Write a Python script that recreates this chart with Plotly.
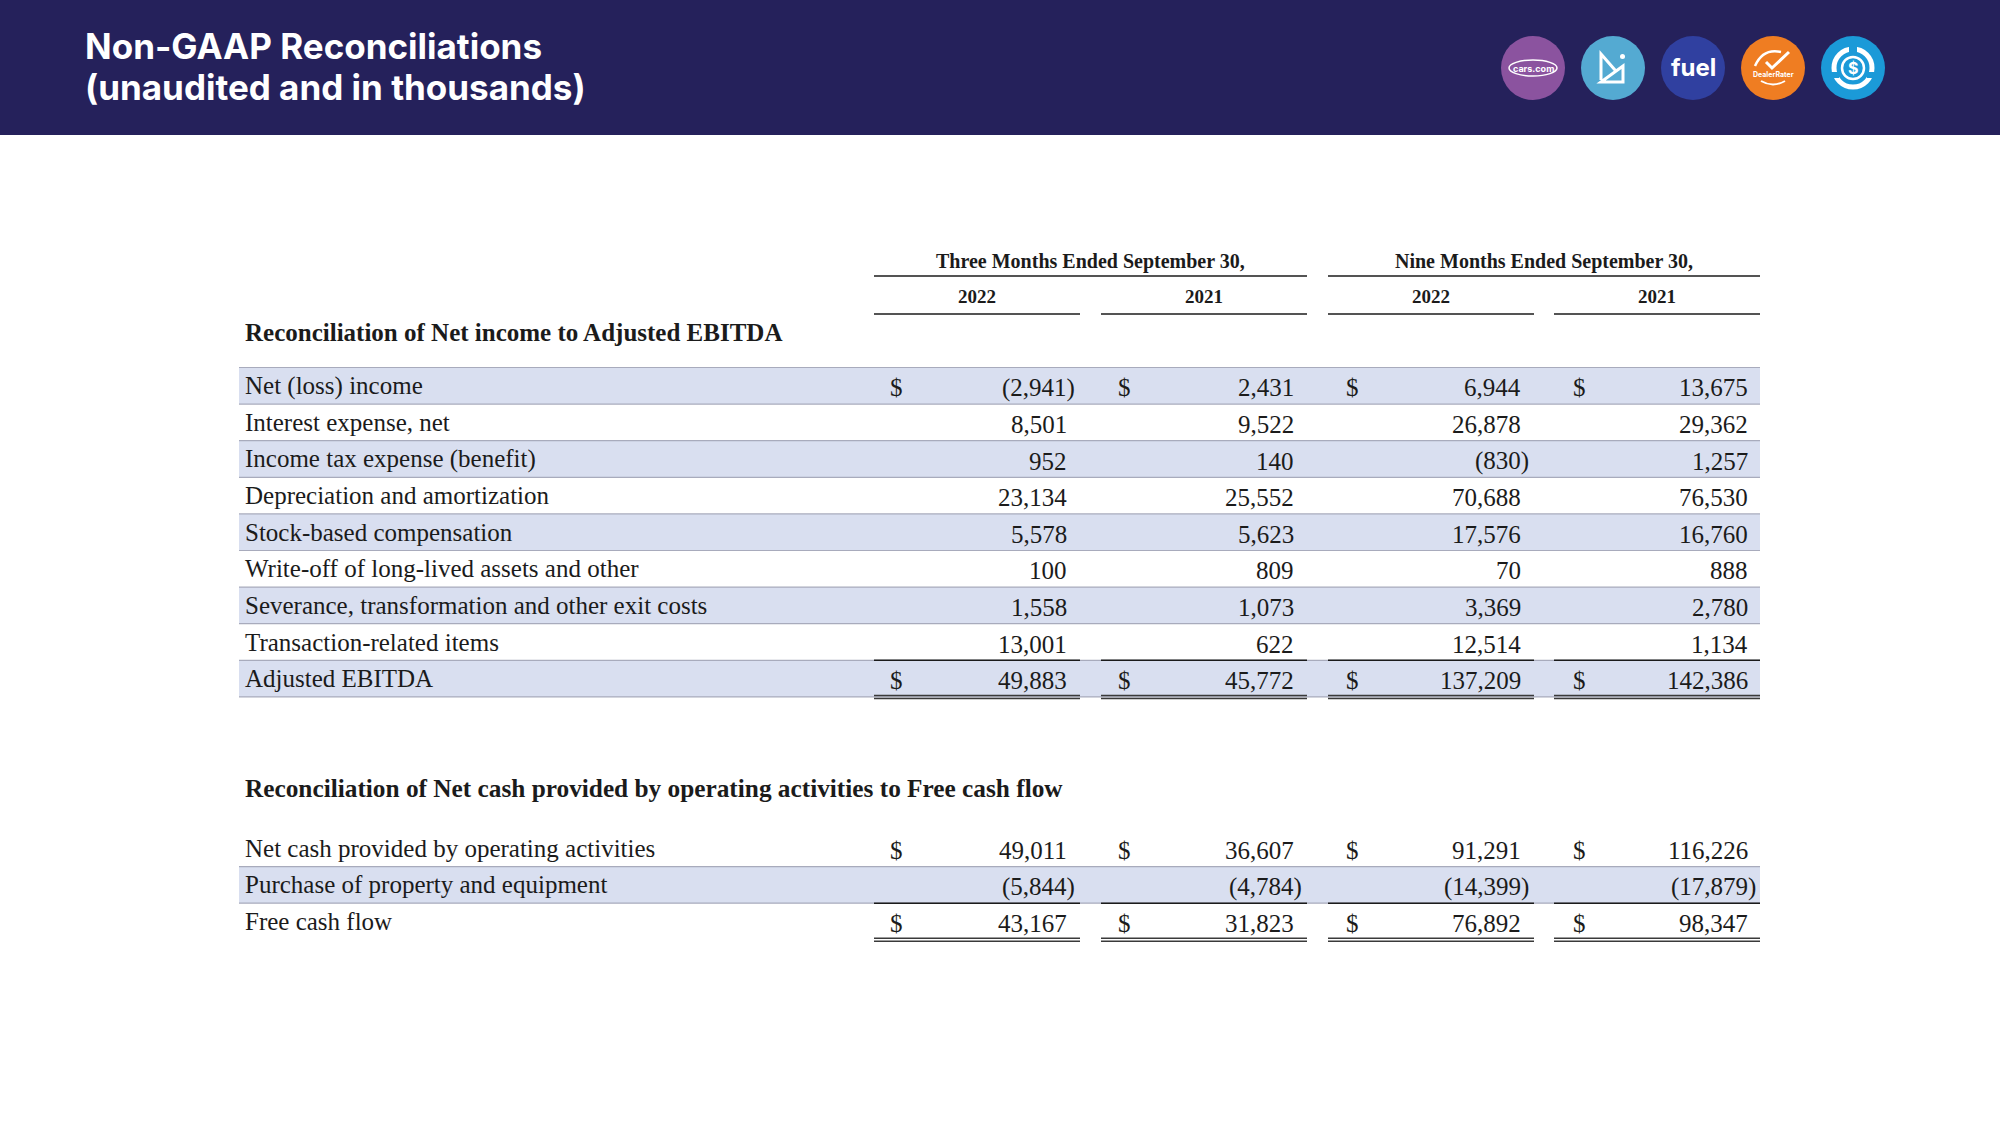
import plotly.graph_objects as go

# ---------------- data ----------------
period_headers = ["Three Months Ended September 30,", "Nine Months Ended September 30,"]
year_labels = ["2022", "2021", "2022", "2021"]

section1_title = "Reconciliation of Net income to Adjusted EBITDA"
ebitda_items = [
    "Net (loss) income",
    "Interest expense, net",
    "Income tax expense (benefit)",
    "Depreciation and amortization",
    "Stock-based compensation",
    "Write-off of long-lived assets and other",
    "Severance, transformation and other exit costs",
    "Transaction-related items",
    "Adjusted EBITDA",
]
ebitda_q3_2022 = [-2941, 8501, 952, 23134, 5578, 100, 1558, 13001, 49883]
ebitda_q3_2021 = [2431, 9522, 140, 25552, 5623, 809, 1073, 622, 45772]
ebitda_9m_2022 = [6944, 26878, -830, 70688, 17576, 70, 3369, 12514, 137209]
ebitda_9m_2021 = [13675, 29362, 1257, 76530, 16760, 888, 2780, 1134, 142386]

section2_title = "Reconciliation of Net cash provided by operating activities to Free cash flow"
fcf_items = [
    "Net cash provided by operating activities",
    "Purchase of property and equipment",
    "Free cash flow",
]
fcf_q3_2022 = [49011, -5844, 43167]
fcf_q3_2021 = [36607, -4784, 31823]
fcf_9m_2022 = [91291, -14399, 76892]
fcf_9m_2021 = [116226, -17879, 98347]

title_lines = ["Non-GAAP Reconciliations", "(unaudited and in thousands)"]

# ---------------- layout constants ----------------
W, H = 2000, 1125
NAVY = "#25215b"
BAND = "#d9dff0"
BAND_EDGE = "#a8abbc"
INK = "#1b1b1b"
SERIF = "Liberation Serif"

col_left = [874, 1101, 1328, 1554]      # column segment left edges
col_right = [1080, 1307, 1534, 1760]    # column segment right edges
dollar_x = [888, 1116, 1344, 1571]
digit_right = [1069, 1296, 1523, 1750]
label_x = 243
band_left, band_right = 239, 1760

row_h = 36.6
s1_top = 367.5
s2_top = 830.0

fig = go.Figure()
shapes = []
ann = []


def fmt(v):
    s = f"{abs(v):,}"
    return f"({s})" if v < 0 else s


def add_text(x, y, text, size=25, anchor="left", color=INK, family=SERIF, bold=False):
    ann.append(dict(
        x=x, y=y, xref="x", yref="y", text=(f"<b>{text}</b>" if bold else text),
        showarrow=False, xanchor=anchor, yanchor="middle",
        font=dict(family=family, size=size, color=color),
    ))


def hline(x0, x1, y, color=INK, width=1.5):
    shapes.append(dict(type="line", xref="x", yref="y", x0=x0, x1=x1, y0=y, y1=y,
                       line=dict(color=color, width=width), layer="above"))


# ---------------- header ----------------
shapes.append(dict(type="rect", xref="x", yref="y", x0=0, x1=W, y0=0, y1=135,
                   fillcolor=NAVY, line=dict(width=0), layer="below"))
for i, t in enumerate(title_lines):
    add_text(83, 46 + i * 41, t, size=35, color="white", family="Inter", bold=True)

# icons
icon_x = [1533, 1613, 1693, 1773, 1853]
icon_y = 68
icon_r = 32
icon_colors = ["#8b539f", "#54aad2", "#3040a0", "#ef7d22", "#1b9ad8"]
for cx, c in zip(icon_x, icon_colors):
    shapes.append(dict(type="circle", xref="x", yref="y", x0=cx - icon_r, x1=cx + icon_r,
                       y0=icon_y - icon_r, y1=icon_y + icon_r, fillcolor=c, line=dict(width=0)))
# cars.com
shapes.append(dict(type="circle", xref="x", yref="y", x0=icon_x[0] - 24, x1=icon_x[0] + 24,
                   y0=icon_y - 8, y1=icon_y + 8, line=dict(color="white", width=1.5)))
add_text(icon_x[0], icon_y, "cars.com", size=9, anchor="center", color="white", family="Inter", bold=True)
# second logo (stylised lines)
cx = icon_x[1]
shapes.append(dict(type="path", xref="x", yref="y",
                   path=f"M {cx-12},{icon_y+12} L {cx-12},{icon_y-14} L {cx+2},{icon_y+2} "
                        f"M {cx-12},{icon_y+14} L {cx+10},{icon_y+14} L {cx+10},{icon_y-2} Z",
                   line=dict(color="white", width=3)))
shapes.append(dict(type="circle", xref="x", yref="y", x0=cx + 7, x1=cx + 12, y0=icon_y - 14, y1=icon_y - 9,
                   fillcolor="white", line=dict(width=0)))
# fuel
add_text(icon_x[2], icon_y - 1, "fuel", size=24, anchor="center", color="white", family="Inter", bold=True)
# DealerRater
cx = icon_x[3]
shapes.append(dict(type="path", xref="x", yref="y",
                   path=f"M {cx-18},{icon_y-2} Q {cx-10},{icon_y-20} {cx+8},{icon_y-16}",
                   line=dict(color="white", width=2.5)))
shapes.append(dict(type="path", xref="x", yref="y",
                   path=f"M {cx-7},{icon_y-6} L {cx-1},{icon_y} L {cx+16},{icon_y-16}",
                   line=dict(color="white", width=3)))
add_text(cx, icon_y + 6, "DealerRater", size=7, anchor="center", color="white", family="Inter", bold=True)
shapes.append(dict(type="path", xref="x", yref="y",
                   path=f"M {cx-12},{icon_y+13} Q {cx},{icon_y+20} {cx+12},{icon_y+13}",
                   line=dict(color="white", width=2)))
# dollar ring
cx = icon_x[4]
shapes.append(dict(type="circle", xref="x", yref="y", x0=cx - 19, x1=cx + 19, y0=icon_y - 19, y1=icon_y + 19,
                   line=dict(color="white", width=5)))
shapes.append(dict(type="circle", xref="x", yref="y", x0=cx - 11, x1=cx + 11, y0=icon_y - 11, y1=icon_y + 11,
                   line=dict(color="white", width=2.5)))
add_text(cx, icon_y, "$", size=16, anchor="center", color="white", family="Inter", bold=True)
for dx0, dy0, dx1, dy1 in [(-4, -24, 4, -14), (14, 4, 24, 10), (-24, 4, -14, 10)]:
    shapes.append(dict(type="rect", xref="x", yref="y", x0=cx + dx0, x1=cx + dx1, y0=icon_y + dy0,
                       y1=icon_y + dy1, fillcolor=icon_colors[4], line=dict(width=0)))

# ---------------- column headers ----------------
add_text((col_left[0] + col_right[1]) / 2, 261, period_headers[0], size=20, anchor="center", bold=True)
add_text((col_left[2] + col_right[3]) / 2, 261, period_headers[1], size=20, anchor="center", bold=True)
hline(col_left[0], col_right[1], 276, width=1.5)
hline(col_left[2], col_right[3], 276, width=1.5)
for i, yl in enumerate(year_labels):
    add_text((col_left[i] + col_right[i]) / 2, 296, yl, size=19, anchor="center", bold=True)
    hline(col_left[i], col_right[i], 314, width=1.5)


# ---------------- table sections ----------------
def draw_section(title, title_y, title_size, top, items, cols, shaded, dollar_rows, total_row):
    add_text(label_x, title_y, title, size=title_size, bold=True)
    for r, item in enumerate(items):
        y0 = top + r * row_h
        y1 = y0 + row_h
        yc = (y0 + y1) / 2
        if r in shaded:
            shapes.append(dict(type="rect", xref="x", yref="y", x0=band_left, x1=band_right, y0=y0, y1=y1,
                               fillcolor=BAND, line=dict(width=0), layer="below"))
            hline(band_left, band_right, y0, color=BAND_EDGE, width=1.2)
            hline(band_left, band_right, y1, color=BAND_EDGE, width=1.2)
        add_text(label_x, yc, item, size=25)
        for c, vals in enumerate(cols):
            v = vals[r]
            if r in dollar_rows:
                add_text(dollar_x[c], yc + 2, "$", size=25, anchor="left")
            xr = digit_right[c] + (8 if v < 0 else 0)
            add_text(xr, yc + 2, fmt(v), size=25, anchor="right")
        if r == total_row:
            for c in range(4):
                hline(col_left[c], col_right[c], y0, width=1.5)
                hline(col_left[c], col_right[c], y1 - 1.5, color="#3a3a3a", width=1.5)
                hline(col_left[c], col_right[c], y1 + 1.5, color="#3a3a3a", width=1.5)


draw_section(section1_title, 332, 25, s1_top, ebitda_items,
             [ebitda_q3_2022, ebitda_q3_2021, ebitda_9m_2022, ebitda_9m_2021],
             shaded={0, 2, 4, 6, 8}, dollar_rows={0, 8}, total_row=8)
draw_section(section2_title, 788, 25.3, s2_top, fcf_items,
             [fcf_q3_2022, fcf_q3_2021, fcf_9m_2022, fcf_9m_2021],
             shaded={1}, dollar_rows={0, 2}, total_row=2)

fig.update_layout(
    width=W, height=H, margin=dict(l=0, r=0, t=0, b=0),
    paper_bgcolor="white", plot_bgcolor="white",
    xaxis=dict(range=[0, W], visible=False, fixedrange=True),
    yaxis=dict(range=[H, 0], visible=False, fixedrange=True),
    shapes=shapes, annotations=ann, showlegend=False,
)
fig.write_html(
    "out.html",
    config={"displayModeBar": False},
    post_script="document.body.style.margin='0';document.body.style.overflow='hidden';",
)
